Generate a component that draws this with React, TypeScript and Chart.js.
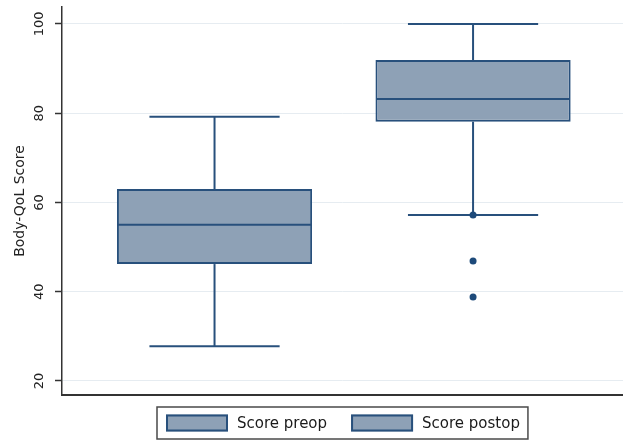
import React, { useEffect, useRef } from "react";
import { Chart, registerables } from "chart.js";

Chart.register(...registerables);

// ---- data ----
const categories = ["Score preop", "Score postop"];
const lowerWhisker = [27.8, 57.2];
const q1Values = [46.2, 78.1];
const medianValues = [55.0, 83.2];
const q3Values = [63.0, 91.9];
const upperWhisker = [79.2, 100.0];
const outlierGroup = [1, 1, 1];
const outlierValues = [57.2, 46.9, 38.8];
const yTicks = [20, 40, 60, 80, 100];
const yTitle = "Body-QoL Score";

// ---- styles ----
const FILL = "#8ea1b6";
const LINE = "#28507c";
const DOT = "#1d4a7a";
const FONT = "'DejaVu Sans', sans-serif";

const whiskerPlugin = {
  id: "whiskers",
  beforeDatasetsDraw(chart: any) {
    const meta = chart.getDatasetMeta(0);
    const y = chart.scales.y;
    const ctx = chart.ctx;
    ctx.save();
    ctx.strokeStyle = LINE;
    ctx.lineWidth = 2;
    const line = (x1: number, y1: number, x2: number, y2: number) => {
      ctx.beginPath();
      ctx.moveTo(x1, y1);
      ctx.lineTo(x2, y2);
      ctx.stroke();
    };
    meta.data.forEach((bar: any, i: number) => {
      const cx = bar.x;
      const cap = (bar.width / 2) * 0.667;
      const pUp = y.getPixelForValue(upperWhisker[i]);
      const pLow = y.getPixelForValue(lowerWhisker[i]);
      const pQ1 = y.getPixelForValue(q1Values[i]);
      const pQ3 = y.getPixelForValue(q3Values[i]);
      line(cx, pQ3, cx, pUp);
      line(cx - cap, pUp, cx + cap, pUp);
      line(cx, pQ1, cx, pLow);
      line(cx - cap, pLow, cx + cap, pLow);
    });
    ctx.restore();
  },
  afterDatasetsDraw(chart: any) {
    const meta = chart.getDatasetMeta(0);
    const y = chart.scales.y;
    const ctx = chart.ctx;
    ctx.save();
    ctx.strokeStyle = LINE;
    ctx.lineWidth = 2;
    meta.data.forEach((bar: any, i: number) => {
      const half = bar.width / 2;
      const pMed = y.getPixelForValue(medianValues[i]);
      ctx.beginPath();
      ctx.moveTo(bar.x - half + 1, pMed);
      ctx.lineTo(bar.x + half - 1, pMed);
      ctx.stroke();
    });
    ctx.restore();
  },
};

const legendPlugin = {
  id: "boxLegend",
  afterDraw(chart: any) {
    const ctx = chart.ctx;
    const area = chart.chartArea;
    ctx.save();
    ctx.font = `15px ${FONT}`;
    const sw = 62, sh = 17, gapText = 9, gapItem = 24, padL = 9, padR = 8, boxH = 32;
    const widths = categories.map((c) => ctx.measureText(c).width);
    let total = padL + padR + gapItem * (categories.length - 1);
    widths.forEach((w) => (total += sw + gapText + w));
    const left = Math.round((area.left + area.right) / 2 - total / 2);
    const top = area.bottom + 12;
    ctx.fillStyle = "#ffffff";
    ctx.fillRect(left, top, total, boxH);
    ctx.strokeStyle = "#4a4a4a";
    ctx.lineWidth = 1.5;
    ctx.strokeRect(left, top, total, boxH);
    let x = left + padL;
    const cy = top + boxH / 2;
    categories.forEach((c, i) => {
      ctx.fillStyle = FILL;
      ctx.fillRect(x, cy - sh / 2, sw, sh);
      ctx.strokeStyle = LINE;
      ctx.lineWidth = 2;
      ctx.strokeRect(x + 1, cy - sh / 2 + 1, sw - 2, sh - 2);
      ctx.fillStyle = "#1a1a1a";
      ctx.textAlign = "left";
      ctx.textBaseline = "middle";
      ctx.fillText(c, x + sw + gapText, cy + 1);
      x += sw + gapText + widths[i] + gapItem;
    });
    ctx.restore();
  },
};

export default function App() {
  const canvasRef = useRef<HTMLCanvasElement | null>(null);

  useEffect(() => {
    if (!canvasRef.current) return;
    Chart.defaults.font.family = FONT;
    const chart = new Chart(canvasRef.current, {
      type: "bar",
      data: {
        datasets: [
          {
            type: "bar",
            label: "IQR",
            data: categories.map((_, i) => ({ x: i, y: [q1Values[i], q3Values[i]] })) as any,
            backgroundColor: FILL,
            borderColor: LINE,
            borderWidth: 2,
            borderSkipped: false,
            categoryPercentage: 1,
            barPercentage: 0.755,
            grouped: false,
          } as any,
          {
            type: "scatter",
            label: "Outliers",
            data: outlierValues.map((v, k) => ({ x: outlierGroup[k], y: v })),
            backgroundColor: DOT,
            borderColor: DOT,
            borderWidth: 0,
            pointRadius: 3.5,
            showLine: false,
          } as any,
        ],
      },
      options: {
        responsive: false,
        animation: false,
        layout: { autoPadding: false, padding: { top: 7, left: 0, right: 0, bottom: 47 } },
        plugins: { legend: { display: false }, tooltip: { enabled: false } },
        scales: {
          x: {
            type: "linear",
            min: -0.59,
            max: 1.58,
            offset: false,
            afterBuildTicks: (s: any) => {
              s.ticks = categories.map((_, i) => ({ value: i }));
            },
            ticks: { display: false },
            grid: { display: false, drawTicks: false, offset: false },
            border: { display: true, color: "#333333", width: 2 },
          },
          y: {
            type: "linear",
            min: 16.86,
            max: 103.8,
            afterBuildTicks: (s: any) => {
              s.ticks = yTicks.map((v) => ({ value: v }));
            },
            afterFit: (s: any) => {
              s.width = 62;
              s.paddingTop = 0;
              s.paddingBottom = 0;
            },
            ticks: {
              minRotation: 90,
              maxRotation: 90,
              crossAlign: "center",
              padding: 2.6,
              color: "#222222",
              font: { size: 13, family: FONT },
            },
            grid: {
              color: "#e6ecf1",
              lineWidth: 1,
              tickColor: "#333333",
              tickLength: 7,
              tickWidth: 1.5,
            },
            border: { display: true, color: "#333333", width: 1.5 },
            title: {
              display: true,
              text: yTitle,
              color: "#222222",
              font: { size: 14, family: FONT },
              padding: { top: 11.6, bottom: 0 },
            },
          },
        },
      } as any,
      plugins: [whiskerPlugin, legendPlugin],
    });
    return () => chart.destroy();
  }, []);

  return (
    <div style={{ position: "fixed", left: 0, top: 0, width: 623, height: 442, background: "#ffffff" }}>
      <canvas ref={canvasRef} width={623} height={442} style={{ display: "block" }} />
    </div>
  );
}
